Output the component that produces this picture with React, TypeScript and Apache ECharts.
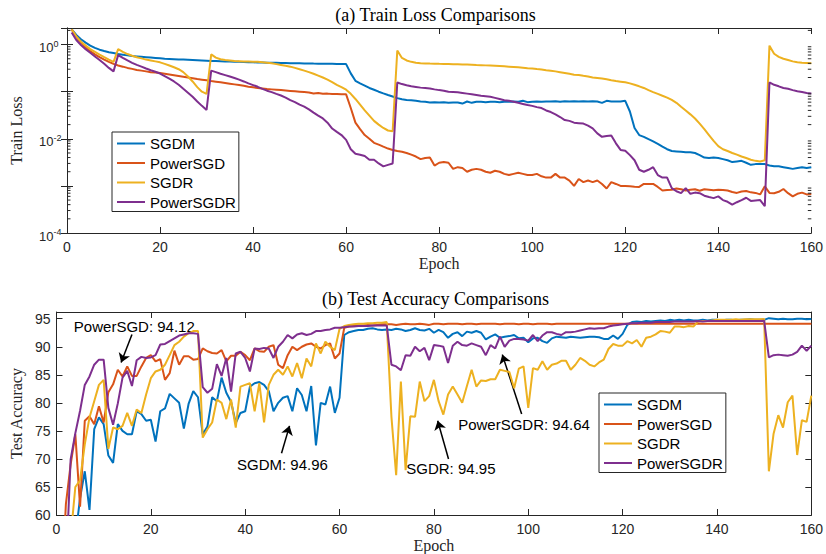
import React, { useEffect, useRef } from "react";
import * as echarts from "echarts";

// ---------- data ----------
const epochs: number[] = Array.from({ length: 160 }, (_, i) => i + 1);
const methodNames = ["SGDM", "PowerSGD", "SGDR", "PowerSGDR"];
const methodColors = ["#0072BD", "#D95319", "#EDB120", "#7E2F8E"];

const lossSGDM = [
  2.1, 1.6, 1.3, 1.1, 0.95, 0.85, 0.78, 0.73, 0.69, 0.66,
  0.63, 0.61, 0.59, 0.57, 0.56, 0.55, 0.54, 0.53, 0.52, 0.51,
  0.5, 0.495, 0.49, 0.485, 0.48, 0.475, 0.47, 0.465, 0.46, 0.455,
  0.45, 0.447, 0.444, 0.44, 0.437, 0.434, 0.43, 0.427, 0.424, 0.42,
  0.418, 0.416, 0.414, 0.412, 0.41, 0.408, 0.406, 0.404, 0.402, 0.4,
  0.398, 0.397, 0.395, 0.394, 0.392, 0.39, 0.39, 0.388, 0.387, 0.385,
  0.245, 0.17, 0.15, 0.135, 0.12, 0.11, 0.1, 0.092, 0.085, 0.079,
  0.073, 0.069, 0.067, 0.066, 0.064, 0.062, 0.061, 0.059, 0.06, 0.059,
  0.06, 0.058, 0.059, 0.059, 0.056, 0.062, 0.058, 0.061, 0.061, 0.06,
  0.061, 0.061, 0.06, 0.061, 0.061, 0.062, 0.061, 0.064, 0.06, 0.061,
  0.062, 0.061, 0.062, 0.062, 0.063, 0.061, 0.063, 0.062, 0.063, 0.062,
  0.063, 0.062, 0.063, 0.062, 0.058, 0.064, 0.062, 0.062, 0.062, 0.064,
  0.038, 0.017, 0.012, 0.011, 0.0098, 0.0088, 0.0078, 0.0068, 0.006, 0.0055,
  0.0054, 0.0053, 0.0052, 0.0052, 0.005, 0.0045, 0.004, 0.0039, 0.004, 0.0039,
  0.0037, 0.0035, 0.0032, 0.0033, 0.0034, 0.0031, 0.0028, 0.0029, 0.0029, 0.0029,
  0.0027, 0.0026, 0.0026, 0.0025, 0.0024, 0.0023, 0.0024, 0.0025, 0.0024, 0.0025,
];

const lossPowerSGD = [
  2.1, 1.45, 1.1, 0.88, 0.73, 0.62, 0.54, 0.48, 0.43, 0.39,
  0.36, 0.34, 0.32, 0.305, 0.29, 0.28, 0.27, 0.26, 0.255, 0.248,
  0.24, 0.232, 0.224, 0.216, 0.208, 0.2, 0.193, 0.186, 0.18, 0.174,
  0.168, 0.163, 0.158, 0.153, 0.148, 0.143, 0.138, 0.133, 0.128, 0.124,
  0.12, 0.117, 0.114, 0.112, 0.11, 0.108, 0.106, 0.104, 0.102, 0.1,
  0.098, 0.096, 0.092, 0.094, 0.09, 0.091, 0.089, 0.089, 0.088, 0.088,
  0.045, 0.022, 0.016, 0.012, 0.01, 0.0082, 0.0075, 0.0068, 0.0062, 0.0058,
  0.0055, 0.0053, 0.005, 0.0046, 0.0042, 0.0037, 0.0039, 0.004, 0.0027, 0.0031,
  0.0032, 0.0031, 0.0023, 0.0025, 0.0024, 0.002, 0.0022, 0.0023, 0.0022, 0.002,
  0.0019, 0.0021, 0.002, 0.0018, 0.0017, 0.0018, 0.0019, 0.0018, 0.0017, 0.0017,
  0.0018, 0.0016, 0.0015, 0.0015, 0.0018, 0.0015, 0.0015, 0.0013, 0.001, 0.0014,
  0.0012, 0.0013, 0.0012, 0.0013, 0.0011, 0.00088, 0.0012, 0.0011, 0.001, 0.001,
  0.00098, 0.00096, 0.00095, 0.0011, 0.0011, 0.0011, 0.00095, 0.0008, 0.00082, 0.00083,
  0.00088, 0.00085, 0.0008, 0.00083, 0.00085, 0.00079, 0.00085, 0.00083, 0.00081, 0.00083,
  0.00082, 0.0008, 0.00074, 0.00071, 0.00076, 0.00078, 0.00073, 0.00071, 0.00066, 0.00098,
  0.00071, 0.0007, 0.00075, 0.00086, 0.0007, 0.0006, 0.00068, 0.00072, 0.00066, 0.00067,
];

const lossSGDR = [
  2.1, 1.5, 1.15, 0.95, 0.8, 0.7, 0.61, 0.54, 0.48, 0.43,
  0.8, 0.7, 0.63, 0.58, 0.54, 0.51, 0.48, 0.46, 0.44, 0.42,
  0.39, 0.36, 0.33, 0.3, 0.26, 0.21, 0.165, 0.125, 0.1, 0.09,
  0.62, 0.53, 0.49, 0.47, 0.46, 0.45, 0.445, 0.44, 0.435, 0.43,
  0.43, 0.42, 0.41, 0.4, 0.385, 0.37, 0.355, 0.34, 0.32, 0.3,
  0.28, 0.26, 0.24, 0.22, 0.2, 0.18, 0.16, 0.14, 0.125, 0.11,
  0.09, 0.07, 0.053, 0.04, 0.031, 0.024, 0.02, 0.017, 0.015, 0.0145,
  0.75, 0.52, 0.46, 0.43, 0.41, 0.4, 0.398, 0.395, 0.393, 0.39,
  0.388, 0.386, 0.384, 0.382, 0.38, 0.378, 0.375, 0.37, 0.366, 0.362,
  0.358, 0.354, 0.35, 0.345, 0.34, 0.335, 0.33, 0.323, 0.316, 0.31,
  0.302, 0.295, 0.286, 0.278, 0.27, 0.26, 0.25, 0.24, 0.23, 0.225,
  0.217, 0.21, 0.2, 0.195, 0.19, 0.183, 0.175, 0.168, 0.163, 0.158,
  0.15, 0.14, 0.13, 0.12, 0.108, 0.098, 0.09, 0.082, 0.075, 0.067,
  0.058, 0.048, 0.04, 0.033, 0.027, 0.021, 0.016, 0.012, 0.009, 0.007,
  0.006, 0.0055, 0.005, 0.0046, 0.0042, 0.0039, 0.0036, 0.0034, 0.0033, 0.0035,
  0.95, 0.64, 0.55, 0.5, 0.47, 0.44, 0.42, 0.41, 0.405, 0.4,
];

const lossPowerSGDR = [
  1.8, 1.25, 0.98, 0.8, 0.67, 0.56, 0.47, 0.39, 0.32, 0.27,
  0.6, 0.52, 0.46, 0.41, 0.37, 0.34, 0.31, 0.285, 0.265, 0.243,
  0.215, 0.19, 0.165, 0.14, 0.115, 0.095, 0.078, 0.062, 0.05, 0.041,
  0.28, 0.26, 0.24, 0.225, 0.21, 0.195, 0.18, 0.165, 0.15, 0.138,
  0.127, 0.115, 0.105, 0.098, 0.09, 0.083, 0.075, 0.066, 0.06, 0.053,
  0.048, 0.042, 0.036, 0.031, 0.027, 0.022, 0.0165, 0.014, 0.012, 0.0095,
  0.006, 0.0048, 0.0046, 0.0043, 0.0036, 0.0036, 0.003, 0.0026, 0.0028, 0.003,
  0.157, 0.145, 0.137, 0.13, 0.126, 0.122, 0.12, 0.117, 0.112, 0.108,
  0.105, 0.1, 0.099, 0.097, 0.094, 0.091, 0.088, 0.085, 0.082, 0.08,
  0.078, 0.074, 0.07, 0.066, 0.064, 0.061, 0.058, 0.055, 0.052, 0.05,
  0.047, 0.045, 0.04, 0.037, 0.033, 0.029, 0.025, 0.024, 0.022, 0.0215,
  0.021, 0.019, 0.0167, 0.013, 0.011, 0.0115, 0.0118, 0.008, 0.0058, 0.0056,
  0.0045, 0.0035, 0.0022, 0.002, 0.0022, 0.0025, 0.0017, 0.0015, 0.0015, 0.0009,
  0.00077, 0.0007, 0.0009, 0.00068, 0.00072, 0.0007, 0.00062, 0.00058, 0.00055, 0.0006,
  0.0005, 0.00046, 0.0004, 0.00045, 0.0005, 0.00056, 0.00048, 0.00049, 0.0005, 0.00037,
  0.157, 0.14, 0.13, 0.12, 0.115, 0.108, 0.102, 0.098, 0.094, 0.092,
];

const accSGDM = [
  35, 42, 49, 56, 63, 67.8, 60.9, 75.3, 77.4, 76.2,
  70.6, 69.3, 76.2, 75.0, 74.4, 74.4, 78.5, 78.0, 76.8, 77.0,
  73.1, 78.5, 79.0, 81.6, 80.8, 80.0, 75.4, 79.8, 82.1, 81.0,
  74.4, 75.8, 81.0, 80.3, 84.5, 81.8, 80.2, 76.4, 78.2, 78.5,
  82.9, 83.5, 83.7, 83.2, 82.1, 78.5, 80.0, 80.9, 81.2, 78.5,
  82.6, 81.4, 78.5, 83.0, 72.4, 80.0, 79.7, 82.9, 78.2, 80.9,
  92.1, 92.6, 92.8, 93.0, 93.0, 93.2, 93.3, 93.1, 93.0, 93.1,
  93.0, 93.2, 93.1, 92.8, 93.0, 93.3, 93.0, 92.9, 93.2, 92.5,
  93.0, 92.6, 91.6, 92.3, 92.6, 91.9, 92.7, 92.5, 92.8, 92.5,
  91.3, 91.8, 92.2, 91.6, 91.8, 91.9, 92.1, 91.5, 91.6, 90.8,
  91.5, 91.6, 91.0, 90.7, 91.5, 91.8, 91.7, 91.6, 91.8, 91.7,
  91.6, 91.7, 91.8, 91.8, 91.7, 91.4, 91.4, 92.0, 91.4, 92.3,
  93.9, 94.4, 94.5, 94.4, 94.6, 94.5, 94.6, 94.7, 94.6, 94.8,
  94.7, 94.8, 94.7, 94.8, 94.7, 94.7, 94.8, 94.7, 94.8, 94.8,
  94.7, 94.8, 94.8, 94.7, 94.8, 94.8, 94.9, 94.8, 94.8, 94.8,
  95.1, 95.0, 94.9, 95.0, 94.9, 94.9, 95.0, 95.0, 94.9, 94.96,
];

const accPowerSGD = [
  45, 62, 69, 74.4, 61.5, 76.8, 77.6, 76.2, 79.4, 76.5,
  81.9, 83.3, 85.9, 84.7, 86.5, 84.8, 84.8, 86.5, 88.0, 88.5,
  87.4, 87.8, 84.1, 85.3, 89.3, 86.8, 88.3, 88.3, 87.7, 87.8,
  89.7, 89.2, 88.9, 88.8, 89.4, 87.4, 88.4, 88.4, 89.1, 88.5,
  87.6, 89.7, 89.2, 89.1, 90.0, 90.3, 86.8, 86.2, 88.5, 90.0,
  89.4, 90.0, 90.4, 90.6, 90.0, 89.7, 90.3, 90.6, 87.9, 88.8,
  93.4, 93.6, 93.7, 93.8, 93.8, 93.9, 93.8, 93.9, 94.0, 94.0,
  94.0, 93.9, 94.0, 94.1, 94.0, 94.0, 94.1, 94.0, 93.9, 94.1,
  94.1, 94.0, 94.1, 94.1, 94.1, 94.0, 94.1, 94.1, 94.0, 94.1,
  94.1, 94.1, 94.1, 94.0, 94.1, 94.1, 94.1, 94.0, 94.1, 94.1,
  94.0, 94.1, 94.1, 94.1, 94.0, 94.1, 94.1, 94.1, 94.1, 94.1,
  94.1, 94.1, 94.1, 94.1, 94.1, 94.1, 94.1, 94.1, 94.1, 94.1,
  94.1, 94.1, 94.1, 94.1, 94.1, 94.1, 94.1, 94.1, 94.1, 94.1,
  94.1, 94.1, 94.1, 94.1, 94.1, 94.1, 94.1, 94.1, 94.1, 94.1,
  94.1, 94.1, 94.1, 94.1, 94.1, 94.1, 94.1, 94.1, 94.1, 94.1,
  94.1, 94.1, 94.1, 94.1, 94.1, 94.1, 94.1, 94.1, 94.1, 94.12,
];

const accSGDR = [
  40, 48, 56, 65.0, 66.2, 72.6, 77.4, 80.3, 83.2, 84.1,
  71.8, 75.6, 75.3, 75.9, 78.2, 75.9, 78.8, 78.2, 81.5, 84.4,
  85.6, 85.9, 86.8, 88.5, 90.3, 90.9, 91.8, 92.4, 92.8, 92.8,
  73.8, 75.3, 76.5, 80.6, 80.0, 77.1, 80.6, 75.6, 82.9, 83.2,
  83.5, 78.5, 83.5, 76.5, 83.2, 85.0, 85.9, 85.0, 86.5, 84.7,
  87.1, 84.4, 87.9, 86.5, 90.6, 88.8, 90.9, 90.0, 89.4, 93.2,
  93.7, 93.9, 94.0, 94.1, 94.1, 94.2, 94.2, 94.3, 94.3, 94.4,
  77.5, 67.1, 83.8, 68.0, 77.6, 77.5, 83.8, 80.3, 81.2, 84.1,
  80.3, 77.9, 81.5, 82.9, 81.5, 80.0, 83.0, 85.9, 82.9, 84.0,
  83.9, 84.2, 84.2, 85.9, 85.7, 85.5, 82.6, 86.1, 86.5, 79.1,
  86.2, 85.9, 87.4, 85.9, 86.8, 87.0, 87.5, 87.5, 85.9, 86.8,
  88.0, 87.5, 86.8, 86.5, 87.2, 87.7, 89.6, 90.5, 90.2, 90.2,
  91.0, 90.6, 91.2, 90.0, 91.6, 91.8, 92.2, 92.8, 92.7, 92.5,
  93.6, 93.6, 93.5, 93.7, 93.6, 94.5, 94.6, 94.6, 94.7, 94.8,
  94.8, 94.8, 94.8, 94.9, 94.8, 94.9, 94.9, 94.9, 94.9, 94.95,
  67.8, 74.5, 77.8, 75.6, 80.1, 81.3, 70.7, 76.9, 76.6, 81.3,
];

const accPowerSGDR = [
  40, 50, 69.9, 74.6, 78.6, 83.2, 84.7, 86.8, 87.7, 87.7,
  79.1, 76.1, 79.9, 84.5, 85.7, 83.0, 87.6, 88.2, 88.0, 88.1,
  88.5, 90.4, 90.5, 91.0, 91.5, 92.0, 92.2, 92.4, 92.4, 92.3,
  82.8, 81.8, 82.5, 86.9, 84.8, 88.0, 82.0, 88.8, 89.1, 88.0,
  85.6, 89.7, 89.6, 89.8, 89.7, 88.0, 90.0, 90.9, 92.1, 91.5,
  92.2, 92.4, 92.1, 92.3, 92.8, 92.8, 93.0, 93.1, 93.4, 93.4,
  93.5, 93.6, 93.6, 93.7, 93.7, 93.7, 93.8, 93.8, 93.8, 93.8,
  86.8, 86.5, 85.8, 88.5, 88.4, 90.0, 89.2, 89.8, 87.6, 90.3,
  90.2, 90.0, 87.1, 90.2, 90.9, 90.3, 90.2, 90.6, 90.3, 90.0,
  88.5, 90.3, 89.7, 91.8, 90.0, 91.1, 91.4, 91.4, 91.3, 91.1,
  92.1, 91.0, 92.0, 92.6, 92.6, 92.3, 92.1, 92.6, 92.6, 92.7,
  92.9, 93.1, 93.3, 93.2, 93.3, 93.3, 93.6, 93.8, 93.9, 94.0,
  94.1, 94.2, 94.2, 94.3, 94.3, 94.3, 94.4, 94.4, 94.4, 94.4,
  94.5, 94.5, 94.5, 94.5, 94.5, 94.6, 94.5, 94.6, 94.6, 94.6,
  94.6, 94.6, 94.6, 94.6, 94.6, 94.6, 94.6, 94.6, 94.6, 94.64,
  88.1, 88.5, 88.6, 88.5, 88.4, 88.6, 89.1, 90.2, 89.3, 90.2,
];

const lossSeries = [lossSGDM, lossPowerSGD, lossSGDR, lossPowerSGDR];
const accSeries = [accSGDM, accPowerSGD, accSGDR, accPowerSGDR];

const epochRange = [0, 160];
const epochStep = 20;
const lossRange = [1e-4, 2.25];
const accRange = [60, 96.2];
const accStep = 5;

const titles = ["(a) Train Loss Comparisons", "(b) Test Accuracy Comparisons"];

// annotation: label anchor, arrow tail and arrow head, all in data coords
const annotations = [
  { label: "PowerSGD: 94.12", at: [16.5, 93.6], tail: [16.0, 92.2], head: [13.7, 87.2] },
  { label: "SGDM: 94.96", at: [47.9, 69.0], tail: [47.7, 71.0], head: [49.4, 75.9] },
  { label: "SGDR: 94.95", at: [83.6, 68.3], tail: [83.1, 70.0], head: [80.8, 76.8] },
  { label: "PowerSGDR: 94.64", at: [99.1, 76.2], tail: [98.6, 78.0], head: [94.5, 88.6] },
];

// ---------- styles ----------
const axisColor = "#262626";
const sans = "'Liberation Sans', Arial, Helvetica, sans-serif";
const serif = "'Liberation Serif', 'Times New Roman', serif";

const minorLogTicks: number[] = [];
for (let k = -4; k <= 0; k++) {
  for (let m = 2; m <= 9; m++) {
    const v = m * Math.pow(10, k);
    if (v < lossRange[1]) minorLogTicks.push(v);
  }
}

function boxAxisX(gridIndex: number, position: "top" | "bottom", withLabels: boolean) {
  return {
    gridIndex,
    type: "value",
    min: epochRange[0],
    max: epochRange[1],
    interval: epochStep,
    position,
    axisLine: { show: true, onZero: false, lineStyle: { color: axisColor, width: 1 } },
    axisTick: { show: true, inside: true, length: 6, lineStyle: { color: axisColor, width: 1 } },
    axisLabel: withLabels
      ? { show: true, margin: 7, fontSize: 14, fontFamily: sans, color: axisColor }
      : { show: false },
    splitLine: { show: false },
    ...(withLabels
      ? {
          name: "Epoch",
          nameLocation: "middle",
          nameGap: 22,
          nameTextStyle: { fontFamily: serif, fontSize: 16, color: axisColor },
        }
      : {}),
  };
}

const logLabelFormatter = (v: number) => {
  const lg = Math.log10(v);
  const e = Math.round(lg);
  if (Math.abs(lg - e) > 1e-6 || e % 2 !== 0) return "";
  return `{b|10}{s|${e}}`;
};

function buildOption(): any {
  const series: any[] = [];
  lossSeries.forEach((arr, i) => {
    series.push({
      type: "line",
      name: methodNames[i],
      xAxisIndex: 0,
      yAxisIndex: 0,
      data: epochs.map((e, j) => [e, arr[j]]),
      symbol: "none",
      showSymbol: false,
      lineStyle: { width: 2, color: methodColors[i] },
      itemStyle: { color: methodColors[i] },
      z: 3 + i,
      silent: true,
    });
  });
  series.push({
    type: "custom",
    xAxisIndex: 0,
    yAxisIndex: 0,
    silent: true,
    clip: false,
    z: 10,
    data: minorLogTicks.map((v) => [0, v]),
    renderItem: (_params: any, api: any) => {
      const v = api.value(1);
      const l = api.coord([epochRange[0], v]);
      const r = api.coord([epochRange[1], v]);
      return {
        type: "group",
        children: [
          { type: "line", shape: { x1: l[0], y1: l[1], x2: l[0] + 3.5, y2: l[1] }, style: { stroke: axisColor, lineWidth: 1 } },
          { type: "line", shape: { x1: r[0] - 3.5, y1: r[1], x2: r[0], y2: r[1] }, style: { stroke: axisColor, lineWidth: 1 } },
        ],
      };
    },
  });
  accSeries.forEach((arr, i) => {
    const s: any = {
      type: "line",
      name: methodNames[i],
      xAxisIndex: 2,
      yAxisIndex: 2,
      data: epochs.map((e, j) => [e, arr[j]]),
      symbol: "none",
      showSymbol: false,
      lineStyle: { width: 2, color: methodColors[i] },
      itemStyle: { color: methodColors[i] },
      z: 3 + i,
      silent: true,
    };
    if (i === accSeries.length - 1) {
      s.markLine = {
        silent: true,
        symbol: ["none", "arrow"],
        symbolSize: 9,
        lineStyle: { color: "#000", width: 1.5, type: "solid" },
        label: { show: false },
        emphasis: { disabled: true },
        data: annotations.map((a) => [{ coord: a.tail }, { coord: a.head }]),
      };
      s.markPoint = {
        silent: true,
        symbol: "circle",
        symbolSize: 1,
        itemStyle: { color: "rgba(0,0,0,0)" },
        label: {
          show: true,
          position: "inside",
          formatter: (p: any) => p.name,
          fontFamily: sans,
          fontSize: 15,
          color: "#000",
        },
        data: annotations.map((a) => ({ name: a.label, coord: a.at })),
      };
    }
    series.push(s);
  });

  const legendBase = {
    data: methodNames,
    orient: "vertical",
    icon: "rect",
    itemWidth: 28,
    itemHeight: 2,
    itemGap: 4.5,
    padding: [4, 3, 2, 5],
    borderColor: axisColor,
    borderWidth: 1,
    borderRadius: 0,
    backgroundColor: "#fff",
    selectedMode: false,
    textStyle: { fontFamily: sans, fontSize: 15, color: "#000" },
    z: 20,
  };

  return {
    animation: false,
    backgroundColor: "#fff",
    graphic: [
      {
        type: "text",
        x: 435.5,
        y: 15,
        style: { text: titles[0], align: "center", verticalAlign: "middle", font: `18px ${serif}`, fill: "#000" },
      },
      {
        type: "text",
        x: 435.5,
        y: 299,
        style: { text: titles[1], align: "center", verticalAlign: "middle", font: `18px ${serif}`, fill: "#000" },
      },
    ],
    grid: [
      { left: 55, right: 10, top: 28, height: 205, containLabel: false },
      { left: 55, right: 10, top: 312, height: 205, containLabel: false },
    ],
    legend: [
      { ...legendBase, left: 112, top: 132 },
      { ...legendBase, left: 599, top: 393 },
    ],
    xAxis: [
      boxAxisX(0, "bottom", true),
      boxAxisX(0, "top", false),
      boxAxisX(1, "bottom", true),
      boxAxisX(1, "top", false),
    ],
    yAxis: [
      {
        gridIndex: 0,
        type: "log",
        logBase: 10,
        min: lossRange[0],
        max: lossRange[1],
        position: "left",
        axisLine: { show: true, lineStyle: { color: axisColor, width: 1 } },
        axisTick: { show: true, inside: true, length: 6, lineStyle: { color: axisColor } },
        axisLabel: {
          show: true,
          align: "left",
          margin: 28,
          formatter: logLabelFormatter,
          rich: {
            b: { fontFamily: sans, fontSize: 13, color: axisColor, padding: [6, 0, 0, 0] },
            s: { fontFamily: sans, fontSize: 9, color: axisColor, verticalAlign: "top", padding: [4, 0, 0, 0] },
          },
        },
        splitLine: { show: false },
        name: "Train Loss",
        nameLocation: "middle",
        nameGap: 43,
        nameTextStyle: { fontFamily: serif, fontSize: 16, color: axisColor },
      },
      {
        gridIndex: 0,
        type: "log",
        logBase: 10,
        min: lossRange[0],
        max: lossRange[1],
        position: "right",
        axisLine: { show: true, lineStyle: { color: axisColor, width: 1 } },
        axisTick: { show: true, inside: true, length: 6, lineStyle: { color: axisColor } },
        axisLabel: { show: false },
        splitLine: { show: false },
      },
      {
        gridIndex: 1,
        type: "value",
        min: accRange[0],
        max: accRange[1],
        interval: accStep,
        position: "left",
        axisLine: { show: true, onZero: false, lineStyle: { color: axisColor, width: 1 } },
        axisTick: { show: true, inside: true, length: 6, lineStyle: { color: axisColor } },
        axisLabel: {
          show: true,
          margin: 6,
          fontSize: 14,
          fontFamily: sans,
          color: axisColor,
          formatter: (v: number) => (Math.abs(v % accStep) < 1e-9 ? String(v) : ""),
        },
        splitLine: { show: false },
        name: "Test Accuracy",
        nameLocation: "middle",
        nameGap: 22,
        nameTextStyle: { fontFamily: serif, fontSize: 16, color: axisColor },
      },
      {
        gridIndex: 1,
        type: "value",
        min: accRange[0],
        max: accRange[1],
        interval: accStep,
        position: "right",
        axisLine: { show: true, onZero: false, lineStyle: { color: axisColor, width: 1 } },
        axisTick: { show: true, inside: true, length: 6, lineStyle: { color: axisColor } },
        axisLabel: { show: false },
        splitLine: { show: false },
      },
    ],
    series,
  };
}

export default function App() {
  const ref = useRef<HTMLDivElement>(null);
  useEffect(() => {
    if (!ref.current) return;
    const chart = echarts.init(ref.current, null, { renderer: "svg" });
    chart.setOption(buildOption());
    return () => chart.dispose();
  }, []);
  return (
    <div
      ref={ref}
      style={{ position: "fixed", left: 0, top: 0, width: 826, height: 554, background: "#fff" }}
    />
  );
}
